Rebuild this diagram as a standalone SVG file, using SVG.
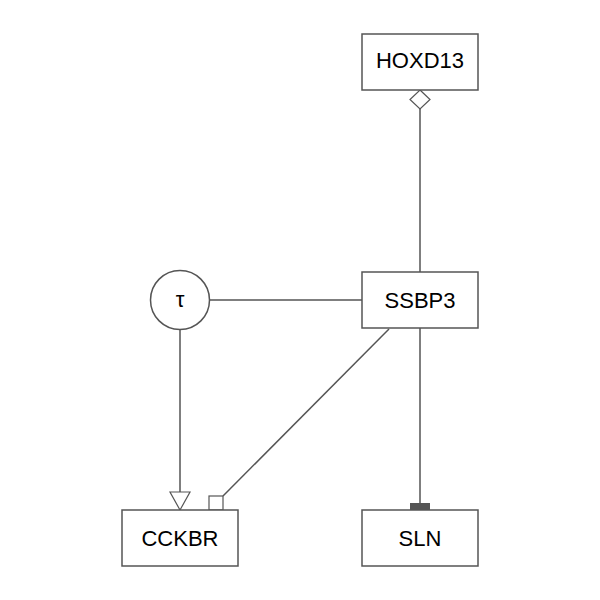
<svg xmlns="http://www.w3.org/2000/svg" width="600" height="600" viewBox="0 0 600 600">
<style>
.box{fill:#fff;stroke:#555;stroke-width:1.5}
.lbl{font-family:"Liberation Sans",Arial,sans-serif;font-size:22px;fill:#000;text-anchor:middle}
.edge{stroke:#555;stroke-width:1.5;fill:none}
.open{fill:#fff;stroke:#555;stroke-width:1.2}
</style>
<rect width="600" height="600" fill="#fff"/>
<g id="connectors">
<line class="edge" x1="420" y1="109" x2="420" y2="272"/>
<polygon class="open" points="420,90 430,99.5 420,109 410,99.5"/>
<line class="edge" x1="210" y1="300" x2="362" y2="300"/>
<line class="edge" x1="180" y1="330" x2="180" y2="492"/>
<polygon class="open" points="170,492 190,492 180,510"/>
<line class="edge" x1="389" y1="329" x2="223" y2="496"/>
<rect class="open" x="209" y="496" width="14" height="14"/>
<line class="edge" x1="420" y1="328" x2="420" y2="504"/>
<rect x="410" y="503" width="20" height="7" fill="#555"/>
</g>
<g id="HOXD13"><rect class="box" x="362" y="34" width="116" height="56"/><text class="lbl" x="420" y="68">HOXD13</text></g>
<g id="SSBP3"><rect class="box" x="362" y="272" width="116" height="56"/><text class="lbl" x="420" y="308">SSBP3</text></g>
<g id="tau"><circle class="box" cx="180" cy="300" r="29.5"/><text class="lbl" x="180" y="307">τ</text></g>
<g id="CCKBR"><rect class="box" x="122" y="510" width="116" height="56"/><text class="lbl" x="180" y="546">CCKBR</text></g>
<g id="SLN"><rect class="box" x="362" y="510" width="116" height="56"/><text class="lbl" x="420" y="546">SLN</text></g>
</svg>
